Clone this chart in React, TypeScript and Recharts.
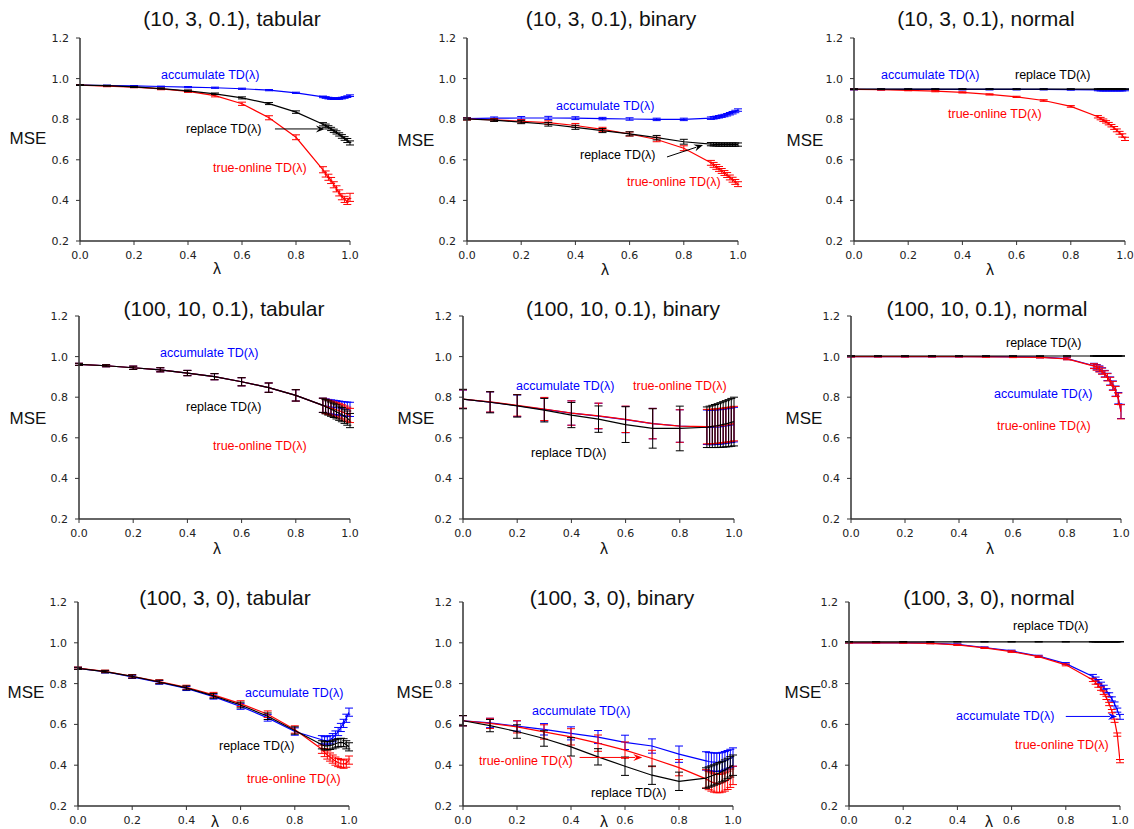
import React from 'react';
import { LineChart, Line, XAxis, YAxis, ErrorBar, ReferenceLine } from 'recharts';

const LAMBDAS = [0, 0.1, 0.2, 0.3, 0.4, 0.5, 0.6, 0.7, 0.8, 0.9, 0.91, 0.92, 0.93, 0.94, 0.95, 0.96, 0.97, 0.98, 0.99, 1.0];
const X_TICKS = [0, 0.2, 0.4, 0.6, 0.8, 1.0];
const Y_TICKS = [0.2, 0.4, 0.6, 0.8, 1.0, 1.2];

// (10, 3, 0.1), tabular
const p1Acc = [0.968, 0.966, 0.964, 0.961, 0.958, 0.955, 0.950, 0.943, 0.930, 0.910, 0.907, 0.904, 0.902, 0.901, 0.901, 0.902, 0.904, 0.907, 0.911, 0.916];
const p1AccErr = [0.002, 0.002, 0.002, 0.002, 0.003, 0.003, 0.003, 0.003, 0.003, 0.004, 0.004, 0.004, 0.004, 0.004, 0.004, 0.004, 0.004, 0.004, 0.004, 0.004];
const p1Rep = [0.968, 0.965, 0.959, 0.951, 0.940, 0.925, 0.905, 0.877, 0.835, 0.775, 0.768, 0.760, 0.752, 0.743, 0.735, 0.725, 0.715, 0.705, 0.695, 0.683];
const p1RepErr = [0.002, 0.002, 0.003, 0.003, 0.004, 0.004, 0.005, 0.005, 0.006, 0.008, 0.008, 0.008, 0.008, 0.008, 0.008, 0.008, 0.009, 0.009, 0.010, 0.010];
const p1Tro = [0.968, 0.963, 0.958, 0.949, 0.937, 0.916, 0.876, 0.807, 0.711, 0.551, 0.530, 0.514, 0.498, 0.477, 0.457, 0.437, 0.418, 0.405, 0.395, 0.415];
const p1TroErr = [0.002, 0.003, 0.003, 0.004, 0.005, 0.006, 0.008, 0.010, 0.012, 0.015, 0.015, 0.015, 0.015, 0.015, 0.015, 0.015, 0.015, 0.015, 0.015, 0.020];

// (10, 3, 0.1), binary
const p2Acc = [0.803, 0.805, 0.806, 0.806, 0.805, 0.803, 0.801, 0.799, 0.799, 0.805, 0.807, 0.809, 0.812, 0.815, 0.818, 0.822, 0.827, 0.832, 0.838, 0.845];
const p2AccErr = [0.004, 0.006, 0.007, 0.008, 0.007, 0.006, 0.006, 0.006, 0.006, 0.006, 0.006, 0.006, 0.006, 0.006, 0.006, 0.006, 0.006, 0.006, 0.006, 0.006];
const p2Rep = [0.801, 0.795, 0.786, 0.775, 0.760, 0.744, 0.728, 0.709, 0.689, 0.677, 0.676, 0.676, 0.675, 0.675, 0.675, 0.675, 0.675, 0.675, 0.675, 0.675];
const p2RepErr = [0.005, 0.006, 0.008, 0.009, 0.010, 0.010, 0.010, 0.011, 0.012, 0.008, 0.008, 0.008, 0.008, 0.008, 0.008, 0.008, 0.008, 0.008, 0.008, 0.008];
const p2Tro = [0.801, 0.797, 0.790, 0.783, 0.769, 0.750, 0.727, 0.700, 0.657, 0.585, 0.575, 0.565, 0.555, 0.545, 0.535, 0.525, 0.513, 0.502, 0.491, 0.480];
const p2TroErr = [0.005, 0.006, 0.008, 0.009, 0.010, 0.010, 0.010, 0.011, 0.012, 0.012, 0.012, 0.012, 0.012, 0.012, 0.012, 0.012, 0.012, 0.012, 0.012, 0.012];

// (10, 3, 0.1), normal
const p3Acc = [0.947, 0.947, 0.947, 0.947, 0.947, 0.947, 0.947, 0.947, 0.946, 0.944, 0.943, 0.943, 0.943, 0.943, 0.943, 0.943, 0.943, 0.943, 0.943, 0.944];
const p3AccErr = [0.003, 0.003, 0.003, 0.003, 0.003, 0.003, 0.003, 0.003, 0.003, 0.004, 0.004, 0.004, 0.004, 0.004, 0.004, 0.004, 0.004, 0.004, 0.004, 0.004];
const p3Rep = [0.948, 0.948, 0.948, 0.948, 0.948, 0.948, 0.948, 0.948, 0.948, 0.948, 0.948, 0.948, 0.948, 0.948, 0.948, 0.948, 0.948, 0.948, 0.948, 0.948];
const p3RepErr = [0.002, 0.002, 0.002, 0.002, 0.002, 0.002, 0.002, 0.002, 0.002, 0.002, 0.002, 0.002, 0.002, 0.002, 0.002, 0.002, 0.002, 0.002, 0.002, 0.002];
const p3Tro = [0.947, 0.945, 0.942, 0.938, 0.932, 0.922, 0.910, 0.892, 0.863, 0.812, 0.803, 0.795, 0.787, 0.778, 0.768, 0.757, 0.745, 0.733, 0.720, 0.703];
const p3TroErr = [0.002, 0.002, 0.002, 0.003, 0.003, 0.003, 0.003, 0.004, 0.004, 0.006, 0.006, 0.006, 0.006, 0.006, 0.006, 0.007, 0.007, 0.007, 0.008, 0.008];

// (100, 10, 0.1), tabular
const p4Acc = [0.962, 0.955, 0.945, 0.935, 0.919, 0.901, 0.876, 0.847, 0.809, 0.760, 0.757, 0.754, 0.752, 0.750, 0.748, 0.746, 0.744, 0.742, 0.741, 0.740];
const p4Rep = [0.962, 0.955, 0.945, 0.935, 0.919, 0.901, 0.876, 0.847, 0.809, 0.760, 0.753, 0.747, 0.741, 0.735, 0.728, 0.721, 0.714, 0.706, 0.697, 0.685];
const p4Tro = [0.962, 0.955, 0.945, 0.935, 0.919, 0.901, 0.876, 0.847, 0.809, 0.760, 0.755, 0.750, 0.746, 0.742, 0.738, 0.733, 0.728, 0.722, 0.716, 0.710];
const p4Err = [0.005, 0.005, 0.008, 0.010, 0.013, 0.015, 0.020, 0.023, 0.028, 0.035, 0.035, 0.035, 0.035, 0.035, 0.035, 0.035, 0.035, 0.035, 0.035, 0.035];

// (100, 10, 0.1), binary
const p5Acc = [0.790, 0.776, 0.758, 0.740, 0.722, 0.707, 0.690, 0.670, 0.658, 0.652, 0.651, 0.651, 0.652, 0.653, 0.654, 0.656, 0.658, 0.660, 0.662, 0.665];
const p5Rep = [0.791, 0.775, 0.757, 0.736, 0.712, 0.692, 0.665, 0.646, 0.646, 0.652, 0.654, 0.656, 0.658, 0.660, 0.663, 0.666, 0.669, 0.672, 0.676, 0.680];
const p5Tro = [0.791, 0.777, 0.760, 0.742, 0.722, 0.708, 0.691, 0.670, 0.658, 0.655, 0.655, 0.656, 0.657, 0.658, 0.660, 0.661, 0.663, 0.665, 0.667, 0.670];
const p5AccErr = [0.045, 0.050, 0.053, 0.057, 0.060, 0.063, 0.065, 0.075, 0.080, 0.085, 0.085, 0.085, 0.085, 0.085, 0.085, 0.085, 0.085, 0.085, 0.085, 0.085];
const p5RepErr = [0.048, 0.052, 0.055, 0.058, 0.062, 0.065, 0.088, 0.097, 0.110, 0.100, 0.102, 0.104, 0.106, 0.108, 0.110, 0.112, 0.114, 0.116, 0.118, 0.120];
const p5TroErr = [0.045, 0.050, 0.053, 0.057, 0.060, 0.063, 0.065, 0.075, 0.080, 0.085, 0.085, 0.085, 0.085, 0.085, 0.085, 0.085, 0.085, 0.085, 0.085, 0.085];

// (100, 10, 0.1), normal
const p6Acc = [1.000, 1.000, 1.000, 1.000, 1.000, 1.000, 0.999, 0.997, 0.990, 0.955, 0.948, 0.940, 0.930, 0.916, 0.900, 0.880, 0.858, 0.830, 0.795, 0.730];
const p6Rep = [1.003, 1.003, 1.003, 1.003, 1.003, 1.003, 1.003, 1.003, 1.003, 1.003, 1.003, 1.003, 1.003, 1.003, 1.003, 1.003, 1.003, 1.003, 1.003, 1.003];
const p6Tro = [1.000, 1.000, 1.000, 1.000, 1.000, 0.999, 0.998, 0.996, 0.989, 0.953, 0.946, 0.938, 0.928, 0.914, 0.898, 0.878, 0.856, 0.828, 0.792, 0.728];
const p6Err = [0.002, 0.002, 0.002, 0.002, 0.002, 0.002, 0.003, 0.003, 0.005, 0.012, 0.013, 0.014, 0.015, 0.016, 0.018, 0.020, 0.022, 0.025, 0.028, 0.035];
const p6RepErr = [0.001, 0.001, 0.001, 0.001, 0.001, 0.001, 0.001, 0.001, 0.001, 0.001, 0.001, 0.001, 0.001, 0.001, 0.001, 0.001, 0.001, 0.001, 0.001, 0.001];

// (100, 3, 0), tabular
const p7Acc = [0.875, 0.858, 0.833, 0.806, 0.776, 0.736, 0.688, 0.632, 0.565, 0.525, 0.520, 0.520, 0.525, 0.535, 0.548, 0.565, 0.585, 0.605, 0.630, 0.660];
const p7Rep = [0.875, 0.859, 0.835, 0.808, 0.779, 0.740, 0.695, 0.640, 0.570, 0.500, 0.495, 0.495, 0.497, 0.500, 0.505, 0.510, 0.512, 0.510, 0.500, 0.490];
const p7Tro = [0.876, 0.860, 0.836, 0.810, 0.782, 0.745, 0.702, 0.650, 0.575, 0.478, 0.462, 0.450, 0.440, 0.430, 0.420, 0.413, 0.408, 0.405, 0.410, 0.425];
const p7Err = [0.005, 0.006, 0.008, 0.009, 0.010, 0.012, 0.014, 0.016, 0.018, 0.020, 0.020, 0.020, 0.020, 0.020, 0.020, 0.020, 0.020, 0.020, 0.020, 0.020];

// (100, 3, 0), binary
const p8Acc = [0.618, 0.607, 0.592, 0.576, 0.556, 0.538, 0.512, 0.494, 0.454, 0.421, 0.418, 0.416, 0.415, 0.414, 0.415, 0.418, 0.422, 0.427, 0.433, 0.440];
const p8AccErr = [0.025, 0.023, 0.025, 0.028, 0.032, 0.032, 0.035, 0.035, 0.040, 0.045, 0.045, 0.045, 0.045, 0.045, 0.045, 0.045, 0.045, 0.045, 0.045, 0.045];
const p8Rep = [0.618, 0.594, 0.565, 0.531, 0.490, 0.441, 0.395, 0.351, 0.321, 0.337, 0.342, 0.347, 0.352, 0.357, 0.363, 0.369, 0.376, 0.384, 0.392, 0.400];
const p8RepErr = [0.025, 0.030, 0.033, 0.038, 0.045, 0.040, 0.045, 0.045, 0.045, 0.050, 0.050, 0.050, 0.050, 0.050, 0.050, 0.050, 0.050, 0.050, 0.050, 0.050];
const p8Tro = [0.618, 0.605, 0.588, 0.563, 0.539, 0.508, 0.474, 0.433, 0.388, 0.333, 0.325, 0.318, 0.313, 0.310, 0.310, 0.313, 0.318, 0.326, 0.336, 0.350];
const p8TroErr = [0.025, 0.025, 0.030, 0.035, 0.040, 0.040, 0.040, 0.040, 0.040, 0.045, 0.045, 0.045, 0.045, 0.045, 0.045, 0.045, 0.045, 0.045, 0.045, 0.045];

// (100, 3, 0), normal
const p9Acc = [1.000, 1.000, 1.000, 0.998, 0.992, 0.977, 0.960, 0.935, 0.898, 0.835, 0.822, 0.810, 0.797, 0.782, 0.765, 0.745, 0.725, 0.700, 0.670, 0.637];
const p9AccErr = [0.001, 0.001, 0.002, 0.002, 0.003, 0.003, 0.004, 0.004, 0.005, 0.010, 0.010, 0.010, 0.010, 0.010, 0.010, 0.010, 0.010, 0.010, 0.010, 0.012];
const p9Rep = [1.005, 1.005, 1.005, 1.005, 1.005, 1.005, 1.005, 1.005, 1.005, 1.005, 1.005, 1.005, 1.005, 1.005, 1.005, 1.005, 1.005, 1.005, 1.005, 1.005];
const p9RepErr = [0.001, 0.001, 0.001, 0.001, 0.001, 0.001, 0.001, 0.001, 0.001, 0.001, 0.001, 0.001, 0.001, 0.001, 0.001, 0.001, 0.001, 0.001, 0.001, 0.001];
const p9Tro = [1.000, 1.000, 1.000, 0.997, 0.990, 0.975, 0.957, 0.932, 0.892, 0.818, 0.805, 0.790, 0.775, 0.755, 0.730, 0.700, 0.665, 0.618, 0.550, 0.420];
const p9TroErr = [0.001, 0.001, 0.002, 0.002, 0.003, 0.003, 0.004, 0.004, 0.005, 0.008, 0.008, 0.008, 0.008, 0.008, 0.008, 0.008, 0.008, 0.008, 0.008, 0.008];

const TITLES = [
  '(10, 3, 0.1), tabular', '(10, 3, 0.1), binary', '(10, 3, 0.1), normal',
  '(100, 10, 0.1), tabular', '(100, 10, 0.1), binary', '(100, 10, 0.1), normal',
  '(100, 3, 0), tabular', '(100, 3, 0), binary', '(100, 3, 0), normal',
];

const ACC_LABEL = 'accumulate TD(λ)';
const REP_LABEL = 'replace TD(λ)';
const TRO_LABEL = 'true-online TD(λ)';

const BLUE = '#0000ff';
const RED = '#ff0000';
const BLACK = '#000000';
const TEXT_FONT = '"Liberation Sans", Arial, Helvetica, sans-serif';
const TICK_FONT = '"DejaVu Sans", sans-serif';

type Ann = { text: string; color: string; left: number; cy: number };
type Arrow = { from: [number, number]; to: [number, number]; color: string };
type PanelCfg = {
  title: string;
  plot: { x: number; y: number; w: number; h: number };
  titlePos: [number, number];
  msePos: [number, number];
  lamPos: [number, number];
  acc: number[]; accErr: number[];
  rep: number[]; repErr: number[];
  tro: number[]; troErr: number[];
  anns: Ann[];
  arrows: Arrow[];
};

const PANELS: PanelCfg[] = [
  {
    title: TITLES[0], plot: { x: 80, y: 38, w: 270, h: 203 }, titlePos: [232, 18], msePos: [28, 138], lamPos: [217, 269],
    acc: p1Acc, accErr: p1AccErr, rep: p1Rep, repErr: p1RepErr, tro: p1Tro, troErr: p1TroErr,
    anns: [
      { text: ACC_LABEL, color: BLUE, left: 161, cy: 75 },
      { text: REP_LABEL, color: BLACK, left: 186, cy: 129 },
      { text: TRO_LABEL, color: RED, left: 213, cy: 168 },
    ],
    arrows: [{ from: [0.722, 0.752], to: [0.907, 0.752], color: BLACK }],
  },
  {
    title: TITLES[1], plot: { x: 467, y: 38, w: 271, h: 203 }, titlePos: [611, 18], msePos: [416, 140], lamPos: [605, 270],
    acc: p2Acc, accErr: p2AccErr, rep: p2Rep, repErr: p2RepErr, tro: p2Tro, troErr: p2TroErr,
    anns: [
      { text: ACC_LABEL, color: BLUE, left: 556, cy: 106 },
      { text: REP_LABEL, color: BLACK, left: 580, cy: 155 },
      { text: TRO_LABEL, color: RED, left: 627, cy: 182 },
    ],
    arrows: [{ from: [0.738, 0.614], to: [0.871, 0.673], color: BLACK }],
  },
  {
    title: TITLES[2], plot: { x: 854, y: 38, w: 271, h: 203 }, titlePos: [986, 18], msePos: [805, 140], lamPos: [990, 270],
    acc: p3Acc, accErr: p3AccErr, rep: p3Rep, repErr: p3RepErr, tro: p3Tro, troErr: p3TroErr,
    anns: [
      { text: ACC_LABEL, color: BLUE, left: 881, cy: 75 },
      { text: REP_LABEL, color: BLACK, left: 1015, cy: 75 },
      { text: TRO_LABEL, color: RED, left: 948, cy: 114 },
    ],
    arrows: [],
  },
  {
    title: TITLES[3], plot: { x: 79, y: 316, w: 271, h: 203 }, titlePos: [224, 308], msePos: [28, 418], lamPos: [217, 549],
    acc: p4Acc, accErr: p4Err, rep: p4Rep, repErr: p4Err, tro: p4Tro, troErr: p4Err,
    anns: [
      { text: ACC_LABEL, color: BLUE, left: 160, cy: 353 },
      { text: REP_LABEL, color: BLACK, left: 186, cy: 407 },
      { text: TRO_LABEL, color: RED, left: 213, cy: 446 },
    ],
    arrows: [],
  },
  {
    title: TITLES[4], plot: { x: 463, y: 316, w: 271, h: 203 }, titlePos: [623, 308], msePos: [416, 418], lamPos: [604, 549],
    acc: p5Acc, accErr: p5AccErr, rep: p5Rep, repErr: p5RepErr, tro: p5Tro, troErr: p5TroErr,
    anns: [
      { text: ACC_LABEL, color: BLUE, left: 516, cy: 386 },
      { text: TRO_LABEL, color: RED, left: 633, cy: 386 },
      { text: REP_LABEL, color: BLACK, left: 531, cy: 453 },
    ],
    arrows: [],
  },
  {
    title: TITLES[5], plot: { x: 851, y: 316, w: 270, h: 203 }, titlePos: [987, 308], msePos: [804, 418], lamPos: [990, 549],
    acc: p6Acc, accErr: p6Err, rep: p6Rep, repErr: p6RepErr, tro: p6Tro, troErr: p6Err,
    anns: [
      { text: REP_LABEL, color: BLACK, left: 1006, cy: 343 },
      { text: ACC_LABEL, color: BLUE, left: 994, cy: 394 },
      { text: TRO_LABEL, color: RED, left: 997, cy: 426 },
    ],
    arrows: [],
  },
  {
    title: TITLES[6], plot: { x: 78, y: 602, w: 271, h: 204 }, titlePos: [225, 597], msePos: [26, 692], lamPos: [215, 822],
    acc: p7Acc, accErr: p7Err, rep: p7Rep, repErr: p7Err, tro: p7Tro, troErr: p7Err,
    anns: [
      { text: ACC_LABEL, color: BLUE, left: 245, cy: 693 },
      { text: REP_LABEL, color: BLACK, left: 219, cy: 746 },
      { text: TRO_LABEL, color: RED, left: 247, cy: 779 },
    ],
    arrows: [],
  },
  {
    title: TITLES[7], plot: { x: 463, y: 602, w: 270, h: 204 }, titlePos: [612, 597], msePos: [415, 692], lamPos: [604, 822],
    acc: p8Acc, accErr: p8AccErr, rep: p8Rep, repErr: p8RepErr, tro: p8Tro, troErr: p8TroErr,
    anns: [
      { text: ACC_LABEL, color: BLUE, left: 532, cy: 711 },
      { text: TRO_LABEL, color: RED, left: 479, cy: 761 },
      { text: REP_LABEL, color: BLACK, left: 591, cy: 793 },
    ],
    arrows: [{ from: [0.432, 0.438], to: [0.664, 0.438], color: RED }],
  },
  {
    title: TITLES[8], plot: { x: 849, y: 602, w: 271, h: 204 }, titlePos: [989, 597], msePos: [803, 692], lamPos: [989, 822],
    acc: p9Acc, accErr: p9AccErr, rep: p9Rep, repErr: p9RepErr, tro: p9Tro, troErr: p9TroErr,
    anns: [
      { text: REP_LABEL, color: BLACK, left: 1013, cy: 626 },
      { text: ACC_LABEL, color: BLUE, left: 956, cy: 716 },
      { text: TRO_LABEL, color: RED, left: 1015, cy: 745 },
    ],
    arrows: [{ from: [0.8, 0.639], to: [0.989, 0.639], color: BLUE }],
  },
];

const fmt = (v: number) => v.toFixed(1);

const makeArrowShape = (color: string) => (props: any) => {
  const { x1, y1, x2, y2 } = props;
  if ([x1, y1, x2, y2].some((v) => typeof v !== 'number' || isNaN(v))) return <g />;
  const ang = Math.atan2(y2 - y1, x2 - x1);
  const len = 9;
  const half = 3.5;
  const bx = x2 - len * Math.cos(ang);
  const by = y2 - len * Math.sin(ang);
  const px = -Math.sin(ang) * half;
  const py = Math.cos(ang) * half;
  return (
    <g>
      <line x1={x1} y1={y1} x2={bx + 2 * Math.cos(ang)} y2={by + 2 * Math.sin(ang)} stroke={color} strokeWidth={1} />
      <polygon points={`${x2},${y2} ${bx + px},${by + py} ${bx + 3 * Math.cos(ang)},${by + 3 * Math.sin(ang)} ${bx - px},${by - py}`} fill={color} />
    </g>
  );
};

function Panel({ cfg }: { cfg: PanelCfg }) {
  const data = LAMBDAS.map((x, i) => ({
    x,
    acc: cfg.acc[i], accErr: cfg.accErr[i],
    rep: cfg.rep[i], repErr: cfg.repErr[i],
    tro: cfg.tro[i], troErr: cfg.troErr[i],
  }));
  const yW = 50;
  const L = cfg.plot.x - yW;
  const T = cfg.plot.y - 10;
  const W = cfg.plot.w + yW + 10;
  const H = cfg.plot.h + 10 + 30;
  const tickStyle = { fontFamily: TICK_FONT, fontSize: 11, fill: '#222' };
  return (
    <div style={{ position: 'absolute', left: L, top: T }}>
      <LineChart width={W} height={H} data={data} margin={{ top: 10, right: 10, left: 0, bottom: 0 }}>
        <XAxis
          dataKey="x" type="number" domain={[0, 1]} ticks={X_TICKS} tickFormatter={fmt} height={30}
          axisLine={{ stroke: '#333', strokeWidth: 1.5 }} tickLine={{ stroke: '#333' }} tickSize={4} tickMargin={6}
          tick={tickStyle} interval={0} allowDataOverflow
        />
        <YAxis
          type="number" domain={[0.2, 1.2]} ticks={Y_TICKS} tickFormatter={fmt} width={yW}
          axisLine={{ stroke: '#333', strokeWidth: 1.5 }} tickLine={{ stroke: '#333' }} tickSize={4} tickMargin={7}
          tick={tickStyle} interval={0} allowDataOverflow
        />
        <Line dataKey="acc" stroke={BLUE} strokeWidth={1.2} dot={false} isAnimationActive={false} type="linear">
          <ErrorBar dataKey="accErr" direction="y" width={4} stroke={BLUE} strokeWidth={1} isAnimationActive={false} />
        </Line>
        <Line dataKey="tro" stroke={RED} strokeWidth={1.2} dot={false} isAnimationActive={false} type="linear">
          <ErrorBar dataKey="troErr" direction="y" width={4} stroke={RED} strokeWidth={1} isAnimationActive={false} />
        </Line>
        <Line dataKey="rep" stroke={BLACK} strokeWidth={1.2} dot={false} isAnimationActive={false} type="linear">
          <ErrorBar dataKey="repErr" direction="y" width={4} stroke={BLACK} strokeWidth={1} isAnimationActive={false} />
        </Line>
        {cfg.arrows.map((a, i) => (
          <ReferenceLine
            key={i}
            segment={[{ x: a.from[0], y: a.from[1] }, { x: a.to[0], y: a.to[1] }]}
            stroke={a.color}
            ifOverflow="visible"
            shape={makeArrowShape(a.color)}
          />
        ))}
      </LineChart>
    </div>
  );
}

function Overlay({ cfg }: { cfg: PanelCfg }) {
  const center = (x: number, y: number): React.CSSProperties => ({
    position: 'absolute', left: x, top: y, transform: 'translate(-50%, -50%)', whiteSpace: 'nowrap', lineHeight: 1,
  });
  return (
    <>
      <div style={{ ...center(cfg.titlePos[0], cfg.titlePos[1]), fontFamily: TEXT_FONT, fontSize: 21, color: '#111' }}>{cfg.title}</div>
      <div style={{ ...center(cfg.msePos[0], cfg.msePos[1]), fontFamily: TEXT_FONT, fontSize: 17, color: '#111' }}>MSE</div>
      <div style={{ ...center(cfg.lamPos[0], cfg.lamPos[1]), fontFamily: TEXT_FONT, fontSize: 16, color: '#111' }}>λ</div>
      {cfg.anns.map((a, i) => (
        <div
          key={i}
          style={{
            position: 'absolute', left: a.left, top: a.cy, transform: 'translateY(-50%)', whiteSpace: 'nowrap', lineHeight: 1,
            fontFamily: TEXT_FONT, fontSize: 12.5, color: a.color,
          }}
        >
          {a.text}
        </div>
      ))}
    </>
  );
}

export default function App() {
  return (
    <div style={{ position: 'absolute', left: 0, top: 0, width: 1134, height: 829, background: '#fff', overflow: 'hidden' }}>
      {PANELS.map((p, i) => (
        <Panel key={i} cfg={p} />
      ))}
      {PANELS.map((p, i) => (
        <Overlay key={'o' + i} cfg={p} />
      ))}
    </div>
  );
}
